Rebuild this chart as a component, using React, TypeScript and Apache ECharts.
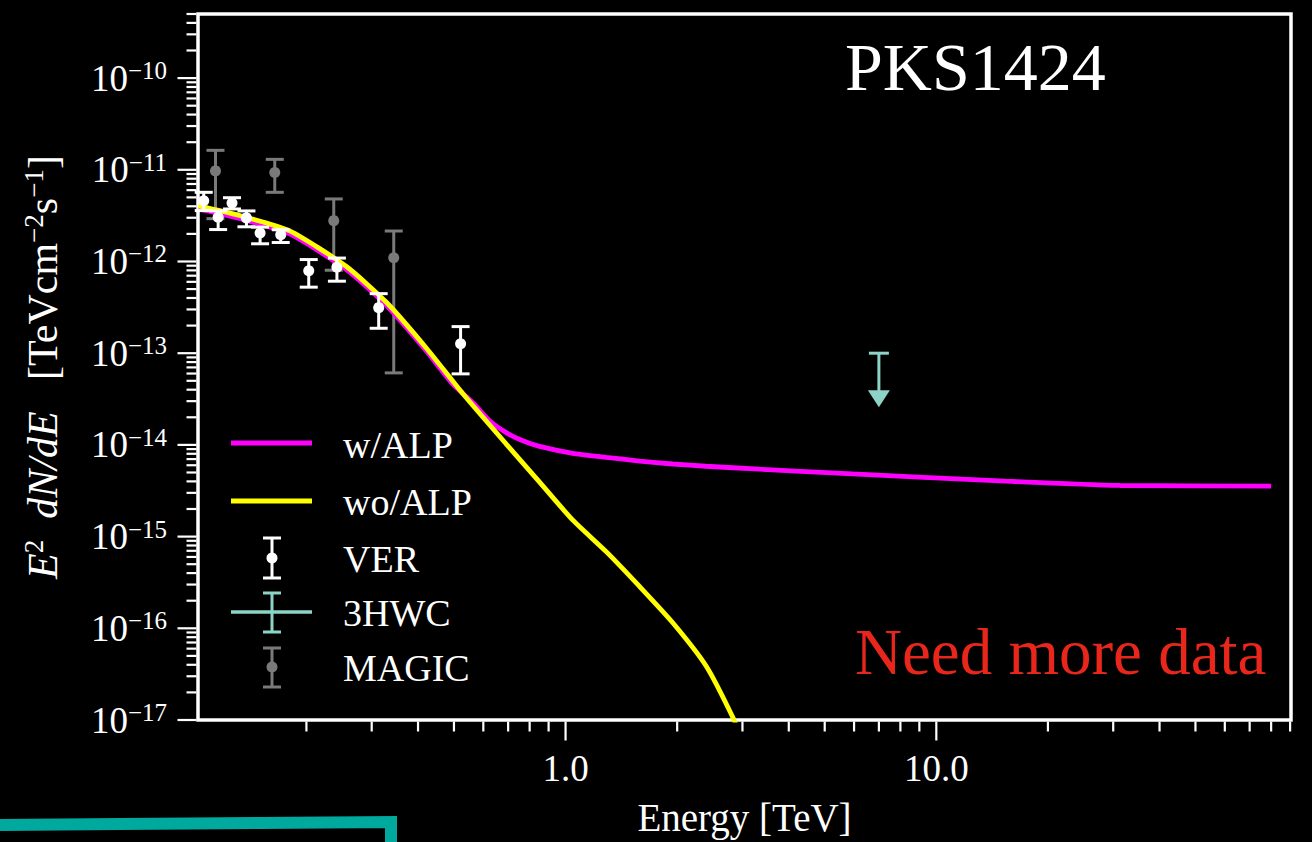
import React, { useEffect, useRef } from "react";
import * as echarts from "echarts";

const FONT = '"Liberation Serif", "DejaVu Serif", serif';

// Axis ranges (log-log)
const xMin = 0.102;
const xMax = 90.5;
const yMin = 1e-17;
const yMax = 5e-10;

// VERITAS points: energy [TeV], E^2 dN/dE, lower and upper error-bar ends
const verEnergy = [0.1057, 0.1156, 0.126, 0.1378, 0.15, 0.1705, 0.2029, 0.2417, 0.3133, 0.521];
const verFlux = [4.6e-12, 3.04e-12, 4.34e-12, 2.99e-12, 2.04e-12, 1.96e-12, 7.91e-13, 8.65e-13, 3.14e-13, 1.27e-13];
const verLow = [3.59e-12, 2.23e-12, 3.74e-12, 2.39e-12, 1.56e-12, 1.61e-12, 5.25e-13, 6.1e-13, 1.87e-13, 5.95e-14];
const verHigh = [5.68e-12, 3.56e-12, 4.96e-12, 3.56e-12, 2.37e-12, 2.22e-12, 1.05e-12, 1.09e-12, 4.46e-13, 1.95e-13];

// MAGIC points
const magicEnergy = [0.1137, 0.1643, 0.237, 0.344];
const magicFlux = [9.73e-12, 9.35e-12, 2.79e-12, 1.1e-12];
const magicLow = [2.93e-12, 5.68e-12, 8.03e-13, 6.1e-14];
const magicHigh = [1.63e-11, 1.3e-11, 4.81e-12, 2.15e-12];

// 3HWC upper limit
const hawcEnergy = [7.0];
const hawcUpperLimit = [1.0e-13];

// Model with ALP mixing
const alpEnergy = [0.1023, 0.1322, 0.1803, 0.2564, 0.3286, 0.4211, 0.4959, 0.5626, 0.6239, 0.692, 0.767, 0.851, 1.046, 1.287, 1.583, 1.946, 2.394, 3.33, 5.94, 15.35, 31.3, 80];
const alpFlux = [3.74e-12, 2.94e-12, 2.0e-12, 8.17e-13, 3.33e-13, 1.06e-13, 4.63e-14, 2.88e-14, 1.83e-14, 1.36e-14, 1.11e-14, 9.63e-15, 8.09e-15, 7.32e-15, 6.67e-15, 6.19e-15, 5.85e-15, 5.43e-15, 4.83e-15, 4.02e-15, 3.61e-15, 3.55e-15];

// Model without ALP
const noAlpEnergy = [0.1023, 0.1322, 0.1803, 0.2564, 0.3286, 0.421, 0.5286, 0.692, 0.851, 1.046, 1.287, 1.583, 1.946, 2.394, 2.825, 3.04];
const noAlpFlux = [4.04e-12, 3.17e-12, 2.16e-12, 8.81e-13, 3.59e-13, 1.14e-13, 3.61e-14, 1.02e-14, 3.93e-15, 1.51e-15, 6.85e-16, 2.86e-16, 1.15e-16, 3.88e-17, 1.07e-17, 5.2e-18];

// Tick labels
const yLabelExponents = [-17, -16, -15, -14, -13, -12, -11, -10];
const xLabelValues = [1, 10];
const xLabelTexts = ["1.0", "10.0"];

const WHITE = "#ffffff";
const MAGENTA = "#ff00ff";
const YELLOW = "#ffff00";
const TEAL = "#8dd3c7";
const GRAY = "#7a7a7a";
const RED = "#e8261b";

function zip(a: number[], b: number[]) {
  return a.map((v, i) => [v, b[i]]);
}

function errorBarRenderer(color: string, radius: number) {
  return (_params: any, api: any) => {
    const x = api.value(0);
    const c = api.coord([x, api.value(1)]);
    const lo = api.coord([x, api.value(2)]);
    const hi = api.coord([x, api.value(3)]);
    const cw = 9;
    const st = { stroke: color, lineWidth: 3 };
    return {
      type: "group",
      children: [
        { type: "line", shape: { x1: c[0], y1: hi[1], x2: c[0], y2: lo[1] }, style: st },
        { type: "line", shape: { x1: c[0] - cw, y1: hi[1], x2: c[0] + cw, y2: hi[1] }, style: st },
        { type: "line", shape: { x1: c[0] - cw, y1: lo[1], x2: c[0] + cw, y2: lo[1] }, style: st },
        { type: "circle", shape: { cx: c[0], cy: c[1], r: radius }, style: { fill: color } },
      ],
    };
  };
}

// Minor/major tick positions for the log axes
const xTicks: number[][] = [];
for (let k = -1; k <= 1; k++) {
  for (let m = 1; m <= 9; m++) {
    const v = m * Math.pow(10, k);
    if (v >= xMin && v <= xMax * 1.0001) xTicks.push([v, yMin, m === 1 ? 1 : 0]);
  }
}
const yTicks: number[][] = [];
for (let k = -17; k <= -10; k++) {
  for (let m = 1; m <= 9; m++) {
    const v = m * Math.pow(10, k);
    if (v >= yMin * 0.9999 && v <= yMax * 1.0001) yTicks.push([xMin, v, m === 1 ? 1 : 0]);
  }
}

const supRich = {
  b: { fontFamily: FONT, fontSize: 37, color: WHITE, lineHeight: 40 },
  s: { fontFamily: FONT, fontSize: 25, color: WHITE, lineHeight: 24, verticalAlign: "top" },
};

export default function App() {
  const ref = useRef<HTMLDivElement>(null);

  useEffect(() => {
    if (!ref.current) return;
    const chart = echarts.init(ref.current, undefined, { renderer: "svg" });

    const legendText = (y: number, text: string) => ({
      type: "text",
      x: 343,
      y,
      style: {
        text,
        fill: WHITE,
        fontFamily: FONT,
        fontSize: 38,
        align: "left",
        textAlign: "left",
        verticalAlign: "middle",
        textVerticalAlign: "middle",
      },
    });
    const errIcon = (cy: number, top: number, bottom: number, color: string, dot: boolean) => {
      const st = { stroke: color, lineWidth: 3 };
      const items: any[] = [
        { type: "line", shape: { x1: 272, y1: top, x2: 272, y2: bottom }, style: st },
        { type: "line", shape: { x1: 263, y1: top, x2: 281, y2: top }, style: st },
        { type: "line", shape: { x1: 263, y1: bottom, x2: 281, y2: bottom }, style: st },
      ];
      if (dot) items.push({ type: "circle", shape: { cx: 272, cy, r: 5.5 }, style: { fill: color } });
      return items;
    };

    const option: any = {
      animation: false,
      backgroundColor: "#000000",
      grid: {
        show: true,
        left: 198,
        top: 14,
        width: 1093,
        height: 709,
        borderColor: WHITE,
        borderWidth: 3.5,
        backgroundColor: "transparent",
      },
      xAxis: {
        type: "log",
        logBase: 10,
        min: xMin,
        max: xMax,
        axisLine: { show: false },
        axisTick: { show: false },
        axisLabel: { show: false },
        splitLine: { show: false },
        minorTick: { show: false },
        name: "Energy [TeV]",
        nameLocation: "middle",
        nameGap: 78,
        nameTextStyle: { color: WHITE, fontFamily: FONT, fontSize: 39 },
      },
      yAxis: {
        type: "log",
        logBase: 10,
        min: yMin,
        max: yMax,
        axisLine: { show: false },
        axisTick: { show: false },
        axisLabel: { show: false },
        splitLine: { show: false },
        minorTick: { show: false },
        name: "{i|E}{s|2}  {i|dN/dE}   {r|[TeVcm}{s|−2}{r|s}{s|−1}{r|]}",
        nameLocation: "middle",
        nameRotate: 90,
        nameGap: 132,
        nameTextStyle: {
          color: WHITE,
          fontFamily: FONT,
          fontSize: 42,
          rich: {
            i: { fontFamily: FONT, fontSize: 42, fontStyle: "italic", color: WHITE, lineHeight: 46 },
            r: { fontFamily: FONT, fontSize: 42, color: WHITE, lineHeight: 46 },
            s: { fontFamily: FONT, fontSize: 27, color: WHITE, lineHeight: 26, verticalAlign: "top" },
          },
        },
      },
      series: [
        {
          name: "MAGIC",
          type: "custom",
          z: 2,
          data: magicEnergy.map((e, i) => [e, magicFlux[i], magicLow[i], magicHigh[i]]),
          renderItem: errorBarRenderer(GRAY, 5.5),
        },
        {
          name: "w/ALP",
          type: "line",
          z: 3,
          data: zip(alpEnergy, alpFlux),
          showSymbol: false,
          symbol: "none",
          clip: true,
          smooth: 0.2,
          lineStyle: { color: MAGENTA, width: 4.8 },
          itemStyle: { color: MAGENTA },
        },
        {
          name: "wo/ALP",
          type: "line",
          z: 4,
          data: zip(noAlpEnergy, noAlpFlux),
          showSymbol: false,
          symbol: "none",
          clip: true,
          smooth: 0.2,
          lineStyle: { color: YELLOW, width: 4.8 },
          itemStyle: { color: YELLOW },
        },
        {
          name: "VER",
          type: "custom",
          z: 5,
          data: verEnergy.map((e, i) => [e, verFlux[i], verLow[i], verHigh[i]]),
          renderItem: errorBarRenderer(WHITE, 5.5),
        },
        {
          name: "3HWC",
          type: "custom",
          z: 5,
          data: zip(hawcEnergy, hawcUpperLimit),
          renderItem: (_p: any, api: any) => {
            const c = api.coord([api.value(0), api.value(1)]);
            return {
              type: "group",
              children: [
                { type: "line", shape: { x1: c[0] - 10, y1: c[1], x2: c[0] + 10, y2: c[1] }, style: { stroke: TEAL, lineWidth: 3 } },
                { type: "line", shape: { x1: c[0], y1: c[1], x2: c[0], y2: c[1] + 38 }, style: { stroke: TEAL, lineWidth: 3 } },
                {
                  type: "polygon",
                  shape: { points: [[c[0] - 11, c[1] + 37], [c[0] + 11, c[1] + 37], [c[0], c[1] + 54]] },
                  style: { fill: TEAL },
                },
              ],
            };
          },
        },
        {
          name: "xTicks",
          type: "custom",
          z: 6,
          silent: true,
          clip: false,
          data: xTicks,
          renderItem: (_p: any, api: any) => {
            const c = api.coord([api.value(0), api.value(1)]);
            const len = api.value(2) ? 19 : 10;
            return {
              type: "line",
              shape: { x1: c[0], y1: c[1] + 1.5, x2: c[0], y2: c[1] + 1.5 + len },
              style: { stroke: WHITE, lineWidth: 2.2 },
            };
          },
        },
        {
          name: "yTicks",
          type: "custom",
          z: 6,
          silent: true,
          clip: false,
          data: yTicks,
          renderItem: (_p: any, api: any) => {
            const c = api.coord([api.value(0), api.value(1)]);
            const len = api.value(2) ? 19 : 10;
            return {
              type: "line",
              shape: { x1: c[0] - 1.5 - len, y1: c[1], x2: c[0] - 1.5, y2: c[1] },
              style: { stroke: WHITE, lineWidth: 2.2 },
            };
          },
        },
        {
          name: "yLabels",
          type: "custom",
          z: 6,
          silent: true,
          clip: false,
          data: yLabelExponents.map((k) => [xMin, Math.pow(10, k), k]),
          renderItem: (_p: any, api: any) => {
            const c = api.coord([api.value(0), api.value(1)]);
            const k = api.value(2);
            return {
              type: "text",
              x: c[0] - 31,
              y: c[1],
              style: {
                text: `{b|10}{s|−${Math.abs(k)}}`,
                rich: supRich,
                fill: WHITE,
                align: "right",
                textAlign: "right",
                verticalAlign: "middle",
                textVerticalAlign: "middle",
              },
            };
          },
        },
        {
          name: "xLabels",
          type: "custom",
          z: 6,
          silent: true,
          clip: false,
          data: xLabelValues.map((v, i) => [v, yMin, i]),
          renderItem: (_p: any, api: any) => {
            const c = api.coord([api.value(0), api.value(1)]);
            return {
              type: "text",
              x: c[0],
              y: c[1] + 48,
              style: {
                text: xLabelTexts[api.value(2)],
                fill: WHITE,
                fontFamily: FONT,
                fontSize: 37,
                align: "center",
                textAlign: "center",
                verticalAlign: "middle",
                textVerticalAlign: "middle",
              },
            };
          },
        },
      ],
      graphic: [
        {
          type: "text",
          x: 845,
          y: 67,
          style: {
            text: "PKS1424",
            fill: WHITE,
            fontFamily: FONT,
            fontSize: 68,
            align: "left",
            textAlign: "left",
            verticalAlign: "middle",
            textVerticalAlign: "middle",
          },
        },
        {
          type: "text",
          x: 855,
          y: 652,
          style: {
            text: "Need more data",
            fill: RED,
            fontFamily: FONT,
            fontSize: 65,
            align: "left",
            textAlign: "left",
            verticalAlign: "middle",
            textVerticalAlign: "middle",
          },
        },
        // legend
        { type: "line", shape: { x1: 231, y1: 443, x2: 312, y2: 443 }, style: { stroke: MAGENTA, lineWidth: 4.8 } },
        legendText(445, "w/ALP"),
        { type: "line", shape: { x1: 231, y1: 501, x2: 312, y2: 501 }, style: { stroke: YELLOW, lineWidth: 4.8 } },
        legendText(502, "wo/ALP"),
        ...errIcon(558, 538, 578, WHITE, true),
        legendText(559, "VER"),
        { type: "line", shape: { x1: 231, y1: 612, x2: 312, y2: 612 }, style: { stroke: TEAL, lineWidth: 3.5 } },
        ...errIcon(612, 593, 632, TEAL, false),
        legendText(613, "3HWC"),
        ...errIcon(667, 648, 687, GRAY, true),
        legendText(668, "MAGIC"),
        // brush-stroke underline in the lower-left corner
        {
          type: "polyline",
          shape: { points: [[0, 825], [120, 824], [260, 823], [391, 822], [391, 842]] },
          style: { stroke: "#00a99d", lineWidth: 12, fill: null, lineJoin: "miter" },
        },
      ],
    };

    chart.setOption(option);
    return () => chart.dispose();
  }, []);

  return (
    <div
      ref={ref}
      style={{ position: "absolute", left: 0, top: 0, width: 1312, height: 842, background: "#000" }}
    />
  );
}
